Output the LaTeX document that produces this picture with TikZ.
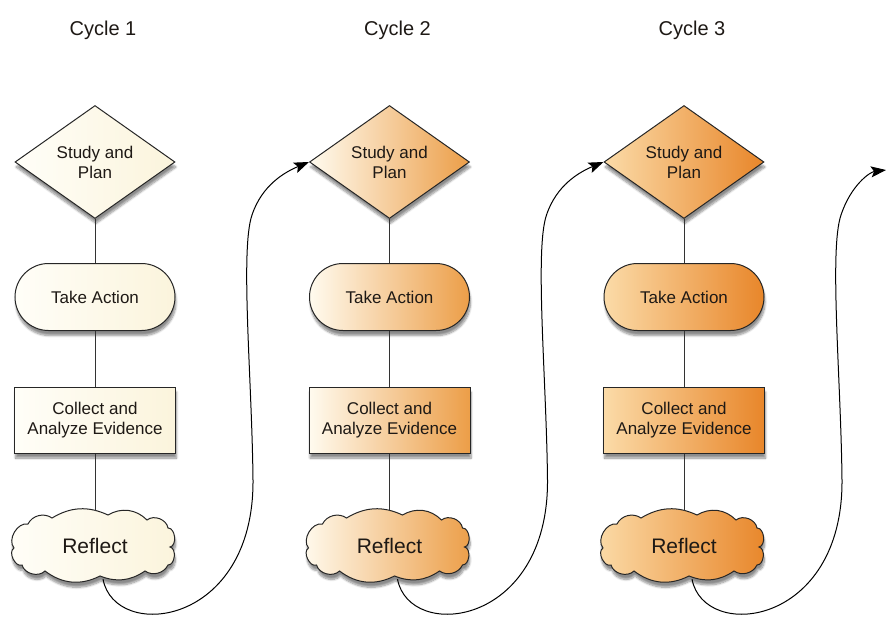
\documentclass[tikz,border=0pt]{standalone}
\usepackage{fontspec}
\setmainfont{Liberation Sans}
\usetikzlibrary{shapes.geometric,shapes.misc,shadows.blur,arrows.meta}
\definecolor{creamL}{HTML}{FFFEF8}
\definecolor{creamR}{HTML}{FBF4DC}
\definecolor{twoL}{HTML}{FFFBEF}
\definecolor{twoR}{HTML}{EC9E48}
\definecolor{threeL}{HTML}{FBDBA8}
\definecolor{threeR}{HTML}{E8862A}
\definecolor{txt}{HTML}{1E1915}
\def\cloudpath{(-81,2) to[bend left=70] (-67,-22) to[bend left=50] (-43,-28)
  to[bend left=28] (13,-31) to[bend left=38] (52,-26) to[bend left=60] (73,-18)
  to[bend left=85] (75,1) to[bend left=85] (73,19) to[bend left=50] (50,25)
  to[bend left=28] (5,30) to[bend left=32] (-50,25) to[bend left=60] (-73,19)
  to[bend left=85] (-81,2) -- cycle}
\begin{document}
\begin{tikzpicture}[x=1pt,y=-1pt,
  shd/.style={blur shadow={shadow xshift=1pt, shadow yshift=-5pt, shadow blur steps=8, shadow opacity=45}},
  shp/.style={draw=black!85, line width=1pt, text=txt, align=center,
    font=\fontsize{17}{20}\selectfont, shd},
  dia/.style={shp, diamond, minimum width=160pt, minimum height=113pt, inner sep=0pt, aspect=1.42},
  act/.style={shp, rounded rectangle, minimum width=160pt, minimum height=67pt, inner sep=0pt},
  col/.style={shp, rectangle, minimum width=161pt, minimum height=66pt, inner sep=0pt},
  cldtext/.style={text=txt, minimum width=170pt, minimum height=66pt, inner sep=0pt,
    font=\fontsize{21}{24}\selectfont},
  cldline/.style={draw=black!85, line width=1pt, shd},
  c1/.style={left color=creamL, right color=creamR},
  c2/.style={left color=twoL, right color=twoR},
  c3/.style={left color=threeL, right color=threeR},
  link/.style={draw=black!80, line width=1pt},
  loop/.style={draw=black, line width=1pt, -{Stealth[length=15pt,width=11pt,inset=3pt]}},
  ttl/.style={text=txt, font=\fontsize{20}{23}\selectfont}]
\useasboundingbox (0,0) rectangle (887,618);
\foreach \i/\x in {1/95, 2/389.5, 3/684} {
  \node[ttl] (t\i) at (\x+8,30) {Cycle \i};
  \node[dia, c\i] (d\i) at (\x,162) {Study and\\Plan};
  \node[act, c\i] (a\i) at (\x,297) {Take Action};
  \node[col, c\i] (e\i) at (\x,420) {Collect and\\Analyze Evidence};
  \begin{scope}[shift={(\x,546)}]
    \path[cldline, c\i] \cloudpath;
  \end{scope}
  \node[cldtext] (r\i) at (\x,546) {Reflect};
  \draw[link] (d\i.south) -- (a\i.north);
  \draw[link] (a\i.south) -- (e\i.north);
  \draw[link] (e\i.south) -- ([yshift=2pt]r\i.north);
}
\coordinate (endpt) at (886,170);
\draw[loop] ([xshift=8pt]r1.south) .. controls (115,642) and (254,627) .. (253,480)
  .. controls (252,380) and (240,250) .. (252,215)
  .. controls (262,185) and (285,172) .. (d2.west);
\draw[loop] ([xshift=8pt]r2.south) .. controls (409.5,642) and (548.5,627) .. (547.5,480)
  .. controls (546.5,380) and (534.5,250) .. (546.5,215)
  .. controls (556.5,185) and (579.5,172) .. (d3.west);
\draw[loop] ([xshift=8pt]r3.south) .. controls (704,642) and (843,627) .. (842,480)
  .. controls (841,380) and (829,250) .. (841,215)
  .. controls (851,185) and (870,172) .. (endpt);
\end{tikzpicture}
\end{document}
